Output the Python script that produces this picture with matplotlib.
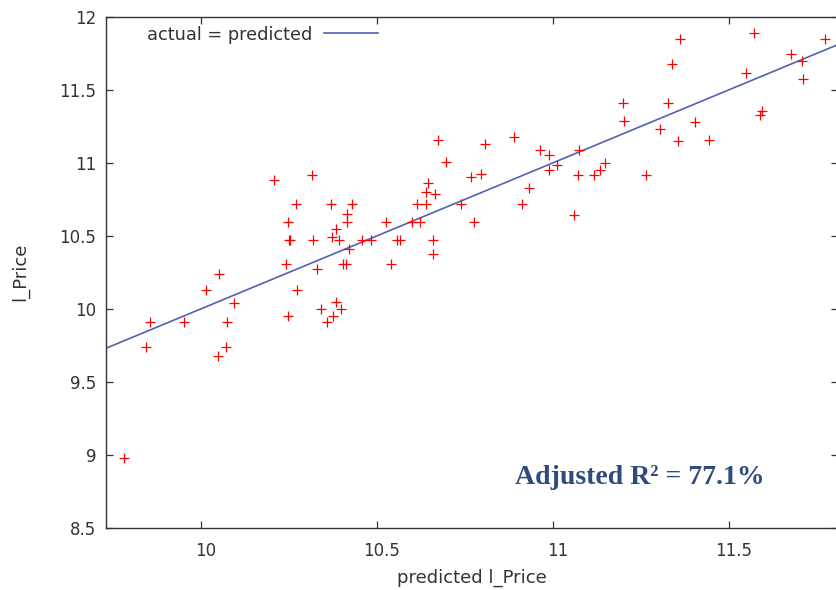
import matplotlib
matplotlib.use('Agg')
import matplotlib.pyplot as plt
import matplotlib.transforms as mtransforms
from matplotlib.ticker import FormatStrFormatter

plt.rcParams['font.family'] = ['DejaVu Sans']

# predicted vs actual log price
predicted = [9.780, 9.843, 9.854, 9.952, 10.013, 10.051, 10.047, 10.070, 10.072, 10.094,
             10.205, 10.241, 10.245, 10.248, 10.252, 10.245, 10.268, 10.273, 10.315, 10.318,
             10.329, 10.341, 10.357, 10.368, 10.372, 10.373, 10.382, 10.382, 10.391, 10.398,
             10.402, 10.411, 10.414, 10.414, 10.420, 10.427, 10.457, 10.481, 10.524, 10.540,
             10.557, 10.565, 10.599, 10.613, 10.621, 10.638, 10.639, 10.644, 10.659, 10.659,
             10.665, 10.672, 10.695, 10.737, 10.767, 10.776, 10.795, 10.807, 10.888, 10.911,
             10.932, 10.961, 10.989, 10.989, 11.010, 11.059, 11.070, 11.073, 11.117, 11.133,
             11.148, 11.198, 11.202, 11.263, 11.303, 11.326, 11.338, 11.353, 11.361, 11.403,
             11.442, 11.547, 11.570, 11.588, 11.593, 11.675, 11.707, 11.710, 11.773]
actual = [8.980, 9.738, 9.907, 9.907, 10.128, 10.238, 9.678, 9.738, 9.907, 10.041,
          10.882, 10.306, 10.594, 10.469, 10.469, 9.950, 10.715, 10.128, 10.916, 10.469,
          10.272, 10.000, 9.907, 10.715, 10.493, 9.950, 10.546, 10.044, 10.469, 10.000,
          10.306, 10.306, 10.647, 10.596, 10.409, 10.715, 10.469, 10.469, 10.596, 10.306,
          10.469, 10.469, 10.596, 10.715, 10.596, 10.715, 10.799, 10.859, 10.469, 10.375,
          10.784, 11.153, 11.003, 10.715, 10.900, 10.596, 10.921, 11.130, 11.173, 10.714,
          10.825, 11.087, 11.053, 10.950, 10.984, 10.645, 10.916, 11.087, 10.916, 10.950,
          11.001, 11.409, 11.289, 10.916, 11.231, 11.409, 11.674, 11.147, 11.849, 11.281,
          11.155, 11.614, 11.886, 11.325, 11.354, 11.742, 11.699, 11.571, 11.849]

x_range = [9.729, 11.809]
y_range = [8.5, 12.0]
x_ticks = [10, 10.5, 11, 11.5]
y_ticks = [8.5, 9, 9.5, 10, 10.5, 11, 11.5, 12]
r2_text = 'Adjusted R² = 77.1%'

txt = '#333333'
fig = plt.figure(figsize=(8.36, 5.90), dpi=100)
ax = fig.add_axes([106 / 836, 62.3 / 590, 732 / 836, 511 / 590])

ax.plot(predicted, actual, linestyle='none', marker='+', color='#ff0000',
        markersize=6.5, markeredgewidth=0.9, zorder=3)
ax.plot(x_range, x_range, color='#5560b0', linewidth=1.2, label='actual = predicted', zorder=2)

ax.set_xlim(x_range)
ax.set_ylim(y_range)
ax.set_xticks(x_ticks)
ax.set_yticks(y_ticks)
ax.xaxis.set_major_formatter(FormatStrFormatter('%g'))
ax.yaxis.set_major_formatter(FormatStrFormatter('%g'))
ax.tick_params(direction='in', length=5, width=0.9, color='#333333',
               top=True, right=True, labelsize=12, labelcolor=txt)
ax.tick_params(axis='x', pad=10)
ax.tick_params(axis='y', pad=7)
for s in ax.spines.values():
    s.set_color('#333333')
    s.set_linewidth(1.0)

# gnuplot puts its x labels a little right of the tick
off = mtransforms.ScaledTranslation(4 / 100, 0, fig.dpi_scale_trans)
for lab in ax.get_xticklabels():
    lab.set_transform(lab.get_transform() + off)

ax.set_xlabel('predicted l_Price', fontsize=13, color=txt)
ax.set_ylabel('l_Price', fontsize=13, color=txt)
ax.xaxis.set_label_coords(0.5, -0.081)
ax.yaxis.set_label_coords(-0.1055, 0.5)

leg = ax.legend(loc='upper left', bbox_to_anchor=(0.034, 1.014), frameon=False,
                markerfirst=False, handlelength=3.0, handletextpad=0.67,
                prop={'size': 12.8})
for t in leg.get_texts():
    t.set_color(txt)

ax.text(0.729, 0.0855, r2_text, transform=ax.transAxes, ha='center', va='baseline',
        fontsize=20, fontweight='bold', family='Liberation Serif', color='#2e4b7c')

fig.savefig('out.png', dpi=100)
